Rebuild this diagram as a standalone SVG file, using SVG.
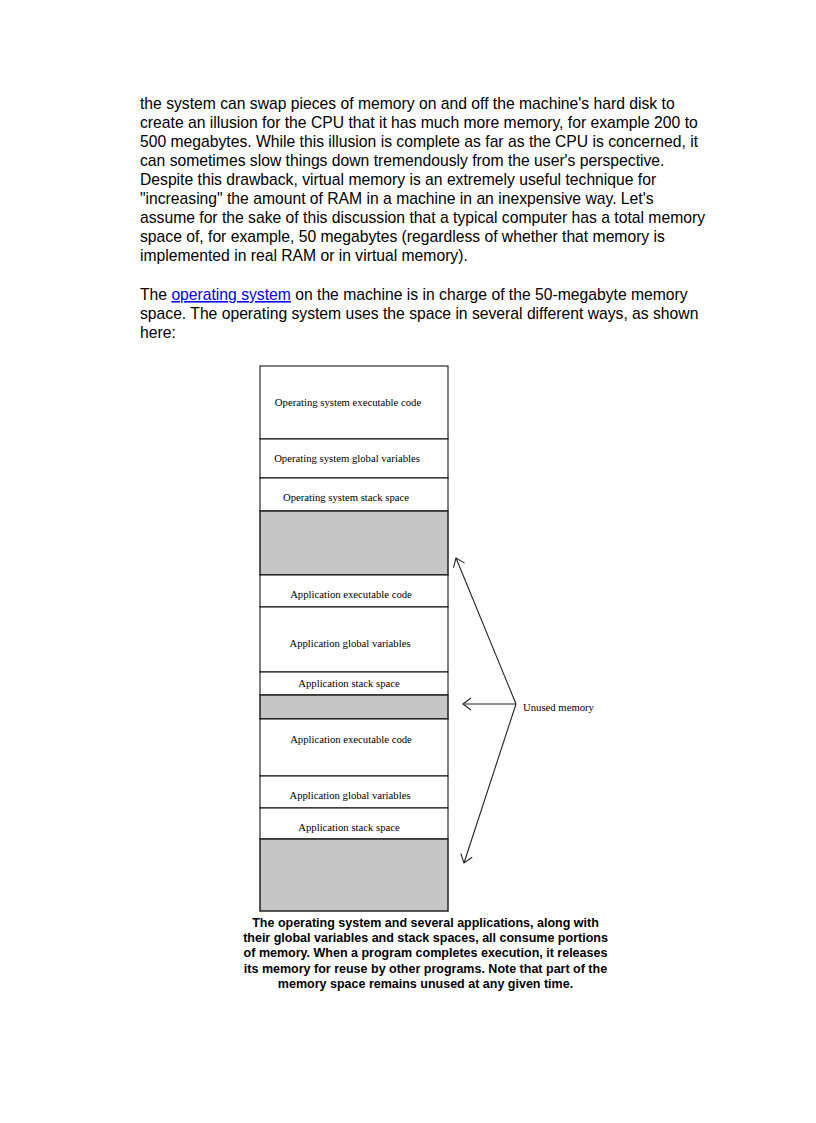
<svg xmlns="http://www.w3.org/2000/svg" width="816" height="1123" viewBox="0 0 816 1123">
<style>
.body{font-family:"Liberation Sans",Arial,sans-serif;font-size:15.7px;fill:#000}
.link{fill:#0000ee}
.cap{font-family:"Liberation Sans",Arial,sans-serif;font-size:12.5px;font-weight:bold;fill:#000;text-anchor:middle}
.lbl{font-family:"Liberation Serif","Times New Roman",serif;font-size:10.7px;fill:#000;text-anchor:middle}
.lbl2{font-family:"Liberation Serif","Times New Roman",serif;font-size:10.7px;fill:#000}
.seg{fill:#fff;stroke:#000;stroke-width:1}
.free{fill:#c6c6c6;stroke:#222;stroke-width:1.5}
.conn{fill:none;stroke:#222;stroke-width:1.1}
</style>
<defs>
<marker id="open" viewBox="0 0 10 14" refX="9" refY="7" markerWidth="10" markerHeight="14" markerUnits="userSpaceOnUse" orient="auto">
<path d="M1,1 L9,7 L1,13" fill="none" stroke="#222" stroke-width="1.1"/>
</marker>
</defs>
<rect width="816" height="1123" fill="#fff"/>
<g id="body-text" class="body">
<text x="140" y="109">the system can swap pieces of memory on and off the machine's hard disk to</text>
<text x="140" y="128">create an illusion for the CPU that it has much more memory, for example 200 to</text>
<text x="140" y="147">500 megabytes. While this illusion is complete as far as the CPU is concerned, it</text>
<text x="140" y="166">can sometimes slow things down tremendously from the user's perspective.</text>
<text x="140" y="185">Despite this drawback, virtual memory is an extremely useful technique for</text>
<text x="140" y="204">"increasing" the amount of RAM in a machine in an inexpensive way. Let's</text>
<text x="140" y="223">assume for the sake of this discussion that a typical computer has a total memory</text>
<text x="140" y="242">space of, for example, 50 megabytes (regardless of whether that memory is</text>
<text x="140" y="261">implemented in real RAM or in virtual memory).</text>
<text x="140" y="300">The <tspan class="link" text-decoration="underline">operating system</tspan> on the machine is in charge of the 50-megabyte memory</text>
<text x="140" y="319">space. The operating system uses the space in several different ways, as shown</text>
<text x="140" y="338">here:</text>
</g>
<g id="memory-map">
<g id="os-exe"><rect class="seg" x="260" y="366" width="188" height="73"/><text class="lbl" x="348" y="406">Operating system executable code</text></g>
<g id="os-global"><rect class="seg" x="260" y="439" width="188" height="39"/><text class="lbl" x="347" y="462">Operating system global variables</text></g>
<g id="os-stack"><rect class="seg" x="260" y="478" width="188" height="33"/><text class="lbl" x="346" y="501">Operating system stack space</text></g>
<g id="free-1"><rect class="free" x="260" y="511" width="188" height="64"/></g>
<g id="app1-exe"><rect class="seg" x="260" y="575" width="188" height="32"/><text class="lbl" x="351" y="598">Application executable code</text></g>
<g id="app1-global"><rect class="seg" x="260" y="607" width="188" height="65"/><text class="lbl" x="350" y="647">Application global variables</text></g>
<g id="app1-stack"><rect class="seg" x="260" y="672" width="188" height="23"/><text class="lbl" x="349" y="687">Application stack space</text></g>
<g id="free-2"><rect class="free" x="260" y="695" width="188" height="24"/></g>
<g id="app2-exe"><rect class="seg" x="260" y="719" width="188" height="57"/><text class="lbl" x="351" y="743">Application executable code</text></g>
<g id="app2-global"><rect class="seg" x="260" y="776" width="188" height="32"/><text class="lbl" x="350" y="799">Application global variables</text></g>
<g id="app2-stack"><rect class="seg" x="260" y="808" width="188" height="31"/><text class="lbl" x="349" y="831">Application stack space</text></g>
<g id="free-3"><rect class="free" x="260" y="839" width="188" height="72"/></g>
</g>
<g id="unused-label"><text class="lbl2" x="523" y="711">Unused memory</text></g>
<g id="connectors">
<path class="conn" d="M516,704 L456,558" marker-end="url(#open)"/>
<path class="conn" d="M516,704 L463,704" marker-end="url(#open)"/>
<path class="conn" d="M516,704 L464,863" marker-end="url(#open)"/>
</g>
<g id="caption">
<text class="cap" x="425.5" y="926.5">The operating system and several applications, along with</text>
<text class="cap" x="425.5" y="942">their global variables and stack spaces, all consume portions</text>
<text class="cap" x="425.5" y="957.4">of memory. When a program completes execution, it releases</text>
<text class="cap" x="425.5" y="972.8">its memory for reuse by other programs. Note that part of the</text>
<text class="cap" x="425.5" y="988.2">memory space remains unused at any given time.</text>
</g>
</svg>
